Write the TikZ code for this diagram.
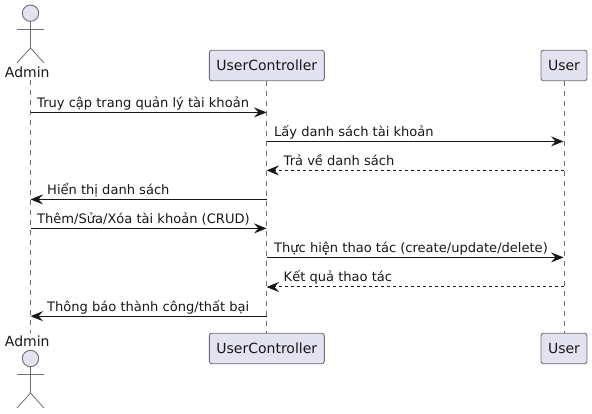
\documentclass[tikz,border=0pt]{standalone}
\usepackage{fontspec}
\setmainfont{DejaVu Sans}
\usetikzlibrary{arrows.meta}
\definecolor{pfill}{HTML}{E2E2F0}
\definecolor{pline}{HTML}{6E6E78}
\definecolor{ink}{HTML}{181818}
\tikzset{
  partbox/.style={draw=pline,fill=pfill,line width=0.9pt,rounded corners=2.5pt,minimum height=30.5pt,inner sep=0pt,font=\fontsize{14}{16}\selectfont,text=ink},
  lifeline/.style={draw=pline,line width=0.8pt,dash pattern=on 5pt off 5pt},
  actorline/.style={draw=pline,line width=0.8pt},
  actorhead/.style={draw=pline,fill=pfill,line width=0.9pt,circle,minimum size=16.4pt,inner sep=0pt},
  actorname/.style={font=\fontsize{14}{16}\selectfont,text=ink,inner sep=0pt,anchor=base},
  msg/.style={draw=ink,line width=1pt,-{Stealth[length=12.5pt,width=10pt,inset=4.5pt,fill=ink]}},
  ret/.style={msg,dash pattern=on 3pt off 3pt},
  msglabel/.style={font=\fontsize{13.05}{15}\selectfont,text=ink,inner sep=0pt,anchor=base west},
}
\begin{document}
\begin{tikzpicture}[x=1pt,y=-1pt]
\useasboundingbox (0,0) rectangle (592,414);
% lifeline ends
\coordinate (aT) at (30.5,80);
\coordinate (aB) at (30.5,333);
\node[partbox,minimum width=115pt] (ucT) at (266.8,65.5) {UserController};
\node[partbox,minimum width=115pt] (ucB) at (266.8,348.5) {UserController};
\node[partbox,minimum width=46pt] (uT) at (564,65.5) {User};
\node[partbox,minimum width=46pt] (uB) at (564,348.5) {User};
\draw[lifeline] (aT) -- (aB);
\draw[lifeline] (ucT.south) -- (ucB.north);
\draw[lifeline] (uT.south) -- (uB.north);
% top actor
\node[actorhead] (h1) at (30.5,13.2) {};
\coordinate (h1hip) at (30.5,48);
\coordinate (h1armL) at (17,29);
\coordinate (h1armR) at (44,29);
\coordinate (h1legL) at (17,63);
\coordinate (h1legR) at (44,63);
\draw[actorline] (h1.south) -- (h1hip);
\draw[actorline] (h1armL) -- (h1armR);
\draw[actorline] (h1legL) -- (h1hip) -- (h1legR);
\node[actorname] (n1) at (27.3,78) {Admin};
% bottom actor
\node[actorname] (n2) at (27.3,346) {Admin};
\node[actorhead] (h2) at (30.5,358.5) {};
\coordinate (h2hip) at (30.5,393);
\coordinate (h2armL) at (17,374);
\coordinate (h2armR) at (44,374);
\coordinate (h2legL) at (17,408);
\coordinate (h2legR) at (44,408);
\draw[actorline] (h2.south) -- (h2hip);
\draw[actorline] (h2armL) -- (h2armR);
\draw[actorline] (h2legL) -- (h2hip) -- (h2legR);
% message ends
\foreach \i/\y in {1/112.4,2/141.4,3/170.4,4/199.4,5/228.4,6/257.4,7/287,8/316.2}{
  \coordinate (a\i) at (30.5,\y);
  \coordinate (c\i) at (266.5,\y);
  \coordinate (s\i) at (563.5,\y);
}
\draw[msg] (a1) -- (c1);
\node[msglabel] (l1) at (37,107.3) {Truy cập trang quản lý tài khoản};
\draw[msg] (c2) -- (s2);
\node[msglabel] (l2) at (274,136.3) {Lấy danh sách tài khoản};
\draw[ret] (s3) -- (c3);
\node[msglabel] (l3) at (283.5,165.5) {Trả về danh sách};
\draw[msg] (c4) -- (a4);
\node[msglabel] (l4) at (47,194.5) {Hiển thị danh sách};
\draw[msg] (a5) -- (c5);
\node[msglabel] (l5) at (37,223.5) {Thêm/Sửa/Xóa tài khoản (CRUD)};
\draw[msg] (c6) -- (s6);
\node[msglabel] (l6) at (274,252.5) {Thực hiện thao tác (create/update/delete)};
\draw[ret] (s7) -- (c7);
\node[msglabel] (l7) at (283.5,282) {Kết quả thao tác};
\draw[msg] (c8) -- (a8);
\node[msglabel] (l8) at (47,311.3) {Thông báo thành công/thất bại};
\end{tikzpicture}
\end{document}
